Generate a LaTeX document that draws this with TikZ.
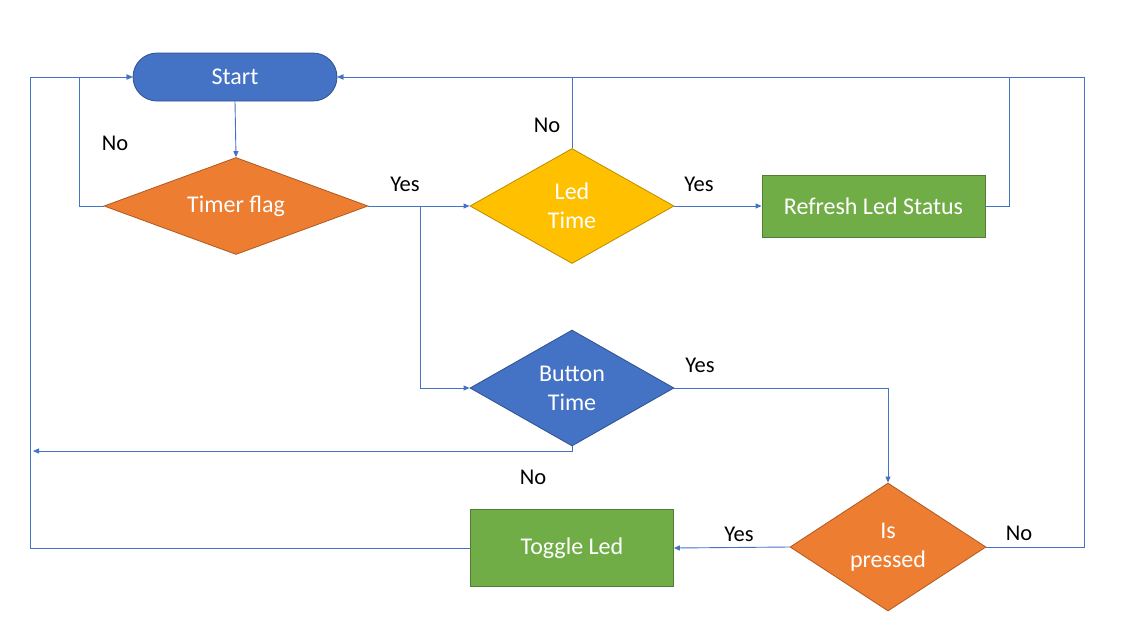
\documentclass[tikz,border=0pt]{standalone}
\usepackage{fontspec}
\setmainfont{Carlito}
\usetikzlibrary{shapes.geometric,arrows.meta}
\definecolor{cblue}{HTML}{4472C4}
\definecolor{cblueD}{HTML}{2F528F}
\definecolor{corange}{HTML}{ED7D31}
\definecolor{corangeD}{HTML}{AE5A21}
\definecolor{cyellow}{HTML}{FFC000}
\definecolor{cyellowD}{HTML}{BC8C00}
\definecolor{cgreen}{HTML}{70AD47}
\definecolor{cgreenD}{HTML}{507E32}
\tikzset{
  ntext/.style={text=white,font=\fontsize{24}{29}\selectfont,align=center,inner sep=0pt,line width=0.8pt},
  decision/.style={ntext,diamond,shape aspect=2},
  procbox/.style={ntext,rectangle},
  lbl/.style={font=\fontsize{22.5}{27}\selectfont,text=black,inner sep=0pt},
  conn/.style={draw=cblue,line width=0.9pt},
  arr/.style={conn,-{Triangle[length=6pt,width=5pt]}}
}
\begin{document}
\begin{tikzpicture}[x=1pt,y=-1pt]
\useasboundingbox (0,0) rectangle (1130,619);
\fill[white] (0,0) rectangle (1130,619);
% nodes
\node[ntext,rectangle,rounded corners=24pt,fill=cblue,draw=cblueD,minimum width=204pt,minimum height=48pt] (start) at (235,77) {Start};
\node[decision,fill=corange,draw=corangeD,minimum width=264pt,minimum height=97pt] (timer) at (236,206) {Timer flag};
\node[decision,fill=cyellow,draw=cyellowD,minimum width=204pt,minimum height=115pt] (led) at (572,206) {Led\\Time};
\node[procbox,fill=cgreen,draw=cgreenD,minimum width=223pt,minimum height=62pt] (refresh) at (873.5,206) {Refresh Led Status};
\node[decision,fill=cblue,draw=cblueD,minimum width=204pt,minimum height=116pt] (btn) at (572,388) {Button\\Time};
\node[decision,fill=corange,draw=corangeD,minimum width=196pt,minimum height=128pt] (isp) at (888,547) {Is\\pressed};
\node[procbox,fill=cgreen,draw=cgreenD,minimum width=203pt,minimum height=77pt] (toggle) at (572,548) {Toggle Led};
% junction coordinates
\coordinate (jL) at (79,77);
\coordinate (jB) at (420,206);
\coordinate (jR) at (1009,77);
\coordinate (jN) at (33,451);
\coordinate (jP) at (1084,77);
\coordinate (jT) at (30,77);
% connectors
\draw[arr] (start.south) -- (timer.north);
\draw[arr] (timer.west) -| (jL) -- (start.west);
\draw[arr] (timer.east) -- (led.west);
\draw[arr] (jB) |- (btn.west);
\draw[arr] (led.north) |- (start.east);
\draw[arr] (led.east) -- (refresh.west);
\draw[conn] (refresh.east) -| (jR);
\draw[arr] (btn.east) -| (isp.north);
\draw[arr] (btn.south) |- (jN);
\draw[arr] (isp.west) -- (toggle.east);
\draw[arr] (isp.east) -| (jP) -- (start.east);
\draw[arr] (toggle.west) -| (jT) -- (start.west);
% labels
\node[lbl] (l1) at (115,143) {No};
\node[lbl] (l2) at (405,184) {Yes};
\node[lbl] (l3) at (547,125) {No};
\node[lbl] (l4) at (699,184) {Yes};
\node[lbl] (l5) at (700,365) {Yes};
\node[lbl] (l6) at (533,477) {No};
\node[lbl] (l7) at (739,534) {Yes};
\node[lbl] (l8) at (1019,533) {No};
\end{tikzpicture}
\end{document}
